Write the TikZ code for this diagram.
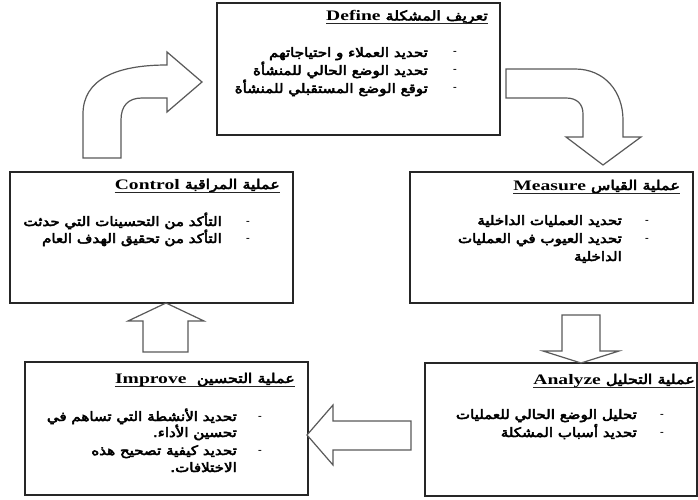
\documentclass[tikz,border=0pt]{standalone}
\usepackage{fontspec}
\usepackage{graphicx}
\setmainfont{Liberation Serif}
\newfontfamily\arfont[Script=Arabic,FakeBold=3.5]{DejaVu Sans}
\TeXXeTstate=1
\newcommand{\arsx}{1.16}
\newcommand{\artx}[1]{\scalebox{\arsx}[1]{\arfont\fontsize{13}{15}\selectfont\beginR #1\endR}}
\newcommand{\ttl}[2]{\scalebox{1.35}[1]{\bfseries\fontsize{14.5}{16}\selectfont #2}\hspace{5pt}\scalebox{1.18}[1]{\arfont\fontsize{13.5}{15}\selectfont\beginR #1\endR}}
\tikzset{
  box/.style={draw=black!85, line width=1.4pt, fill=white, inner sep=0pt},
  blockarrow/.style={draw=black!65, line width=1.2pt, fill=white, line join=miter},
  txtline/.style={inner sep=0pt, anchor=base east},
  ttlnode/.style={inner sep=0pt, anchor=base east},
  dashmark/.style={inner sep=0pt, font=\bfseries\fontsize{11}{12}\selectfont},
  uline/.style={draw=black!85, line width=0.9pt},
}
\begin{document}
\begin{tikzpicture}[x=1pt,y=1pt]
\useasboundingbox (0,0) rectangle (698,-500);
% boxes
\node[box, minimum width=283pt, minimum height=132pt] (define) at (358.5,-69) {};
\node[box, minimum width=283pt, minimum height=131pt] (measure) at (551.5,-237.5) {};
\node[box, minimum width=283pt, minimum height=131pt] (control) at (151.5,-237.5) {};
\node[box, minimum width=272pt, minimum height=133pt] (analyze) at (561,-429.5) {};
\node[box, minimum width=283pt, minimum height=133pt] (improve) at (166.5,-428.5) {};

% titles
\node[ttlnode] (tdef) at (488,-20.5) {\ttl{تعريف المشكلة}{Define}};
\draw[uline] ([yshift=-3pt]tdef.base west) -- ([yshift=-3pt]tdef.base east);
\node[ttlnode] (tmea) at (680,-190) {\ttl{عملية القياس}{Measure}};
\draw[uline] ([yshift=-3pt]tmea.base west) -- ([yshift=-3pt]tmea.base east);
\node[ttlnode] (tcon) at (280,-189) {\ttl{عملية المراقبة}{Control}};
\draw[uline] ([yshift=-3.5pt]tcon.base west) -- ([yshift=-3.5pt]tcon.base east);
\node[ttlnode] (tana) at (695,-384) {\ttl{عملية التحليل}{Analyze}};
\draw[uline] ([yshift=-3pt]tana.base west) -- ([yshift=-3pt]tana.base east);
\node[ttlnode] (timp) at (295,-383) {\ttl{عملية التحسين}{Improve\hspace{4pt}}};
\draw[uline] ([yshift=-3.5pt]timp.base west) -- ([yshift=-3.5pt]timp.base east);

% Define bullets
\node[dashmark] (dd1) at (455,-53) {-};
\node[dashmark] (dd2) at (455,-71) {-};
\node[dashmark] (dd3) at (455,-89) {-};
\node[txtline] (dl1) at (428,-57) {\artx{تحديد العملاء و احتياجاتهم}};
\node[txtline] (dl2) at (428,-75) {\artx{تحديد الوضع الحالي للمنشأة}};
\node[txtline] (dl3) at (428,-93) {\artx{توقع الوضع المستقبلي للمنشأة}};

% Measure bullets
\node[dashmark] (md1) at (647,-222) {-};
\node[dashmark] (md2) at (647,-240) {-};
\node[txtline] (ml1) at (622,-225) {\artx{تحديد العمليات الداخلية}};
\node[txtline] (ml2) at (622,-243) {\artx{تحديد العيوب في العمليات}};
\node[txtline] (ml3) at (622,-261) {\artx{الداخلية}};

% Control bullets
\node[dashmark] (cd1) at (248,-223) {-};
\node[dashmark] (cd2) at (248,-240) {-};
\node[txtline] (cl1) at (222,-226) {\artx{التأكد من التحسينات التي حدثت}};
\node[txtline] (cl2) at (222,-243) {\artx{التأكد من تحقيق الهدف العام}};

% Analyze bullets
\node[dashmark] (ad1) at (662,-416) {-};
\node[dashmark] (ad2) at (662,-434) {-};
\node[txtline] (al1) at (637,-419) {\artx{تحليل الوضع الحالي للعمليات}};
\node[txtline] (al2) at (637,-437) {\artx{تحديد أسباب المشكلة}};

% Improve bullets
\node[dashmark] (id1) at (260,-418) {-};
\node[dashmark] (id2) at (260,-452) {-};
\node[txtline] (il1) at (237,-421) {\artx{تحديد الأنشطة التي تساهم في}};
\node[txtline] (il2) at (237,-437) {\artx{تحسين الأداء.}};
\node[txtline] (il3) at (237,-455) {\artx{تحديد كيفية تصحيح هذه}};
\node[txtline] (il4) at (237,-472) {\artx{الاختلافات.}};

% block arrows
% control -> define (curved, up then right)
\draw[blockarrow] (83,-158) -- (83,-114) .. controls (83,-80) and (115,-65) .. (167,-65)
  -- (167,-52) -- (202,-82) -- (167,-112) -- (167,-98) -- (142,-98)
  .. controls (128,-98) and (121,-106) .. (121,-120) -- (121,-158) -- cycle;
% define -> measure (curved, right then down)
\draw[blockarrow] (506,-69) -- (575,-69) .. controls (605,-69) and (623,-92) .. (623,-120)
  -- (623,-137) -- (641,-137) -- (603,-165) -- (566,-137) -- (583,-137) -- (583,-114)
  .. controls (583,-104) and (577,-98) .. (566,-98) -- (506,-98) -- cycle;
% measure -> analyze
\draw[blockarrow] (562,-315) -- (600,-315) -- (600,-351) -- (619,-351) -- (581,-363)
  -- (543,-351) -- (562,-351) -- cycle;
% analyze -> improve
\draw[blockarrow] (411,-421) -- (333,-421) -- (333,-405) -- (307,-435) -- (333,-465)
  -- (333,-450) -- (411,-450) -- cycle;
% improve -> control
\draw[blockarrow] (143,-352) -- (143,-321) -- (128,-321) -- (166,-303) -- (204,-321)
  -- (188,-321) -- (188,-352) -- cycle;
\end{tikzpicture}
\end{document}
